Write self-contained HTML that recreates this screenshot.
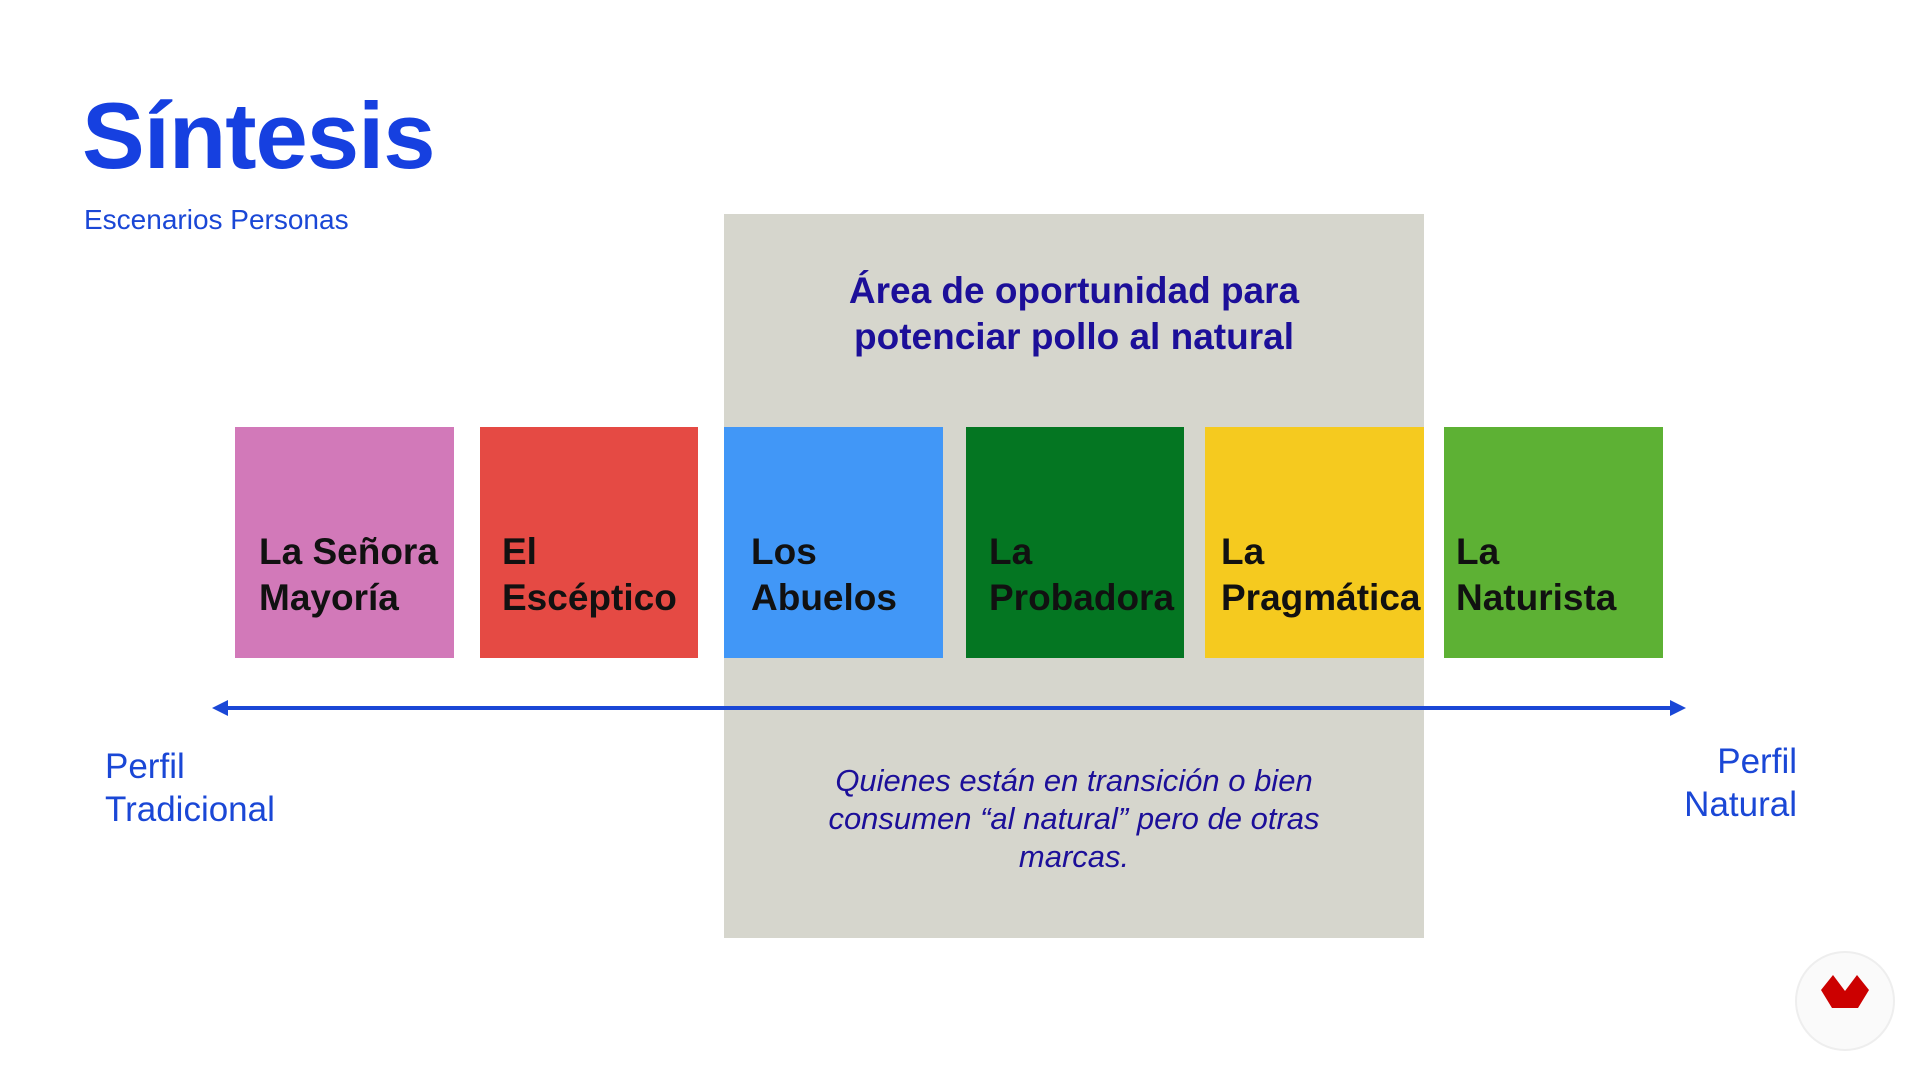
<!DOCTYPE html>
<html><head><meta charset="utf-8"><style>
body{margin:0;width:1920px;height:1080px;background:#fff;position:relative;overflow:hidden;font-family:"Liberation Sans",sans-serif}
.a{position:absolute}
.t{left:82px;top:82px;font-size:94px;font-weight:bold;color:#1640e0;letter-spacing:-1px}
.s{left:84px;top:204px;font-size:28px;color:#1a47d6}
.g{left:724px;top:214px;width:700px;height:724px;background:#d6d6cd}
.b{top:427px;height:231px}
.l{font-size:37px;font-weight:bold;color:#111;line-height:46px;top:529px;white-space:nowrap}
.h{left:724px;width:700px;top:268px;text-align:center;font-size:37px;font-weight:bold;color:#1c0f99;line-height:46px}
.i{left:724px;width:700px;top:762px;text-align:center;font-size:31px;font-style:italic;color:#1c0f99;line-height:38px}
.p{font-size:35px;color:#1a47d6;line-height:43px}
</style></head><body>
<div class="a t">Síntesis</div>
<div class="a s">Escenarios Personas</div>
<div class="a g"></div>
<div class="a h">Área de oportunidad para<br>potenciar pollo al natural</div>
<div class="a b" style="left:235px;width:219px;background:#d279b9"></div>
<div class="a b" style="left:480px;width:218px;background:#e54a44"></div>
<div class="a b" style="left:724px;width:219px;background:#4197f7"></div>
<div class="a b" style="left:966px;width:218px;background:#047622"></div>
<div class="a b" style="left:1205px;width:219px;background:#f5ca1f"></div>
<div class="a b" style="left:1444px;width:219px;background:#5db134"></div>
<div class="a l" style="left:259px">La Señora<br>Mayoría</div>
<div class="a l" style="left:502px">El<br>Escéptico</div>
<div class="a l" style="left:751px">Los<br>Abuelos</div>
<div class="a l" style="left:989px">La<br>Probadora</div>
<div class="a l" style="left:1221px">La<br>Pragmática</div>
<div class="a l" style="left:1456px">La<br>Naturista</div>
<svg class="a" style="left:0;top:0" width="1920" height="1080">
<line x1="222" y1="708" x2="1676" y2="708" stroke="#1a47d6" stroke-width="4"/>
<polygon points="212,708 228,700 228,716" fill="#1a47d6"/>
<polygon points="1686,708 1670,700 1670,716" fill="#1a47d6"/>
<circle cx="1845" cy="1001" r="49" fill="#fafafa" stroke="#eee" stroke-width="2"/>
<polygon points="1821,990 1833,975 1845,991 1857,975 1869,990 1858,1008 1832,1008" fill="#cc0000"/>
</svg>
<div class="a i">Quienes están en transición o bien<br>consumen “al natural” pero de otras<br>marcas.</div>
<div class="a p" style="left:105px;top:745px">Perfil<br>Tradicional</div>
<div class="a p" style="right:123px;top:740px;text-align:right">Perfil<br>Natural</div>
</body></html>
